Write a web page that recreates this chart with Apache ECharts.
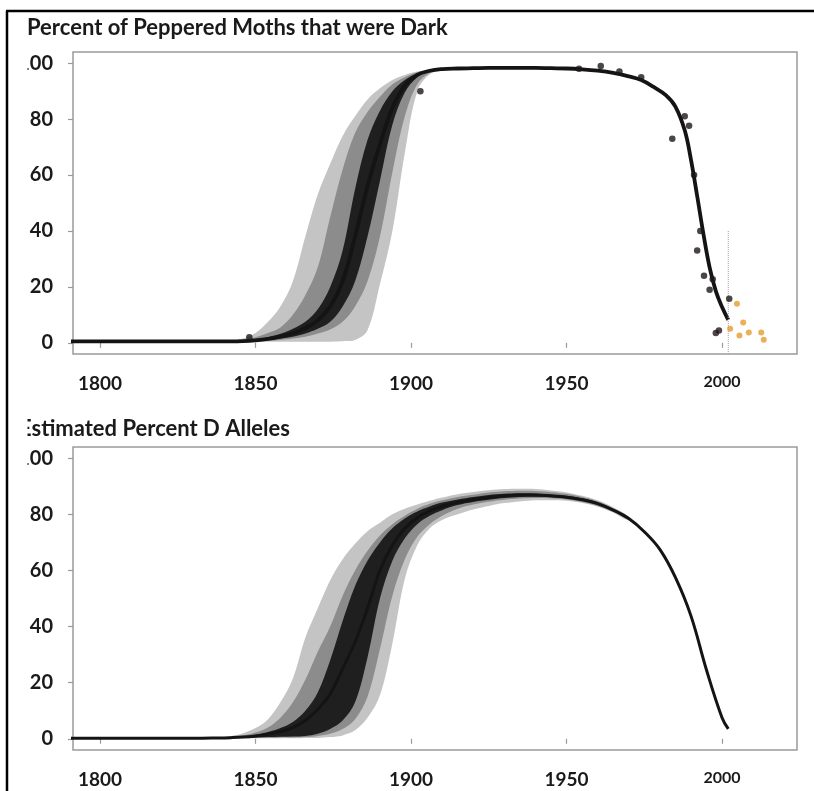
<!DOCTYPE html>
<html><head><meta charset="utf-8">
<script src="https://cdn.jsdelivr.net/npm/echarts@6/dist/echarts.min.js"></script>
<style>html,body{margin:0;padding:0;background:#fff}#c{width:814px;height:791px}</style>
</head><body><div id="c"></div><script>
// ---------- data ----------
const titles = ['Percent of Peppered Moths that were Dark', 'Estimated Percent D Alleles'];
const xTicks = [1800, 1850, 1900, 1950, 2000];
const yTicks = [0, 20, 40, 60, 80, 100];

const bandYears = [1790,1800,1810,1820,1830,1838,1842,1846,1850,1854,1858,1862,1866,1870,1874,1878,1882,1886,1890,1894,1898,1902,1906,1910,1915,1920,1925,1930,1935,1940,1945,1950,1955,1960,1965,1970];

// top panel: band edges (outer light, middle grey, dark); "Upper" = left/upper edge, "Lower" = right/lower edge
const topLightUpper = [0.5,0.5,0.5,0.5,0.5,0.6,0.8,1.5,3.5,7.5,13,22,38,53,64,74,81,87,91,94,95.8,97,97.6,98,98.2,98.3,98.3,98.3,98.3,98.3,98.2,98.1,97.8,97.3,96.5,95.3];
const topMidUpper   = [0.5,0.5,0.5,0.5,0.5,0.5,0.6,1,2,3.5,5.5,10,17,27,45,62,75,82.5,88,92.5,95,96.8,97.6,98,98.2,98.3,98.3,98.3,98.3,98.3,98.2,98.1,97.8,97.3,96.5,95.3];
const topDarkUpper  = [0.5,0.5,0.5,0.5,0.5,0.5,0.5,0.7,1.2,2,3.2,5,7.5,12,20,33,55,72.5,83,90,94,96.4,97.5,97.9,98.1,98.2,98.3,98.3,98.3,98.3,98.2,98.1,97.8,97.3,96.5,95.3];
const topDarkLower  = [0.4,0.4,0.4,0.4,0.4,0.4,0.4,0.5,0.7,1,1.5,2.2,3.3,5,7.5,13,22,38,58,78,89.5,95,97,97.8,98,98.2,98.3,98.3,98.3,98.3,98.2,98.1,97.8,97.3,96.5,95.3];
const topMidLower   = [0.4,0.4,0.4,0.4,0.4,0.4,0.4,0.4,0.5,0.7,1,1.5,2.2,3.3,4.8,7.5,13,22,38,61,81,92.5,96.5,97.6,98,98.2,98.3,98.3,98.3,98.3,98.2,98.1,97.8,97.3,96.5,95.3];
const topLightLower = [0.4,0.4,0.4,0.4,0.4,0.4,0.4,0.4,0.4,0.4,0.4,0.4,0.4,0.4,0.4,0.6,1,4.5,21,40,68,90,96,97.5,98,98.2,98.3,98.3,98.3,98.3,98.2,98.1,97.8,97.3,96.5,95.3];

const topMedYears = [1790,1800,1810,1820,1830,1838,1842,1846,1850,1854,1858,1862,1866,1870,1874,1878,1882,1886,1890,1894,1898,1902,1906,1910,1915,1920,1925,1930,1935,1940,1945,1950,1955,1960,1965,1970,1974,1978,1982,1985,1988,1990,1992,1994,1996,1998,2000,2002];
const topMedian   = [0.5,0.5,0.5,0.5,0.5,0.5,0.5,0.6,0.9,1.4,2.2,3.4,5.2,8,13,22,38,56,71,84,92,95.8,97.3,97.9,98.1,98.2,98.3,98.3,98.3,98.3,98.2,98.1,97.8,97.3,96.5,95.3,94,91.5,88.5,84.5,76,65.5,52.5,39,27,18.5,12.8,8.2];

// observed moths
const darkPoints = [[1848,2],[1903,90],[1954,98],[1961,99],[1967,97],[1974,95],[1984,73],[1988,81],[1989.4,77.6],[1991,60],[1992,33],[1993,40],[1994.2,24],[1996,19],[1997,22.7],[1998,3.5],[1999,4.4],[2002.3,15.8]];
const orangePoints = [[2002.6,5],[2004.8,14],[2005.6,2.6],[2006.8,7.3],[2008.6,3.7],[2012.6,3.7],[2013.4,1.1]];
const refLine = [[2002,-4],[2002,40]];

// bottom panel
const botLightUpper = [0.2,0.2,0.2,0.2,0.3,0.6,1,2,3.8,7,13,21.5,36,46.5,56.5,64,69.5,74,77,80,82,83.5,84.8,86,87.2,88,88.6,89,89.1,89,88.5,87.8,86.6,85,82.5,79.2];
const botMidUpper   = [0.2,0.2,0.2,0.2,0.2,0.5,0.7,1.2,2.2,4,7.5,13,21,31,40,51,60,67,72.5,76.5,79.5,82,83.8,85,86.2,87,87.8,88.2,88.4,88.3,87.9,87.3,86.2,84.7,82.2,79];
const botDarkUpper  = [0.2,0.2,0.2,0.2,0.2,0.4,0.5,0.8,1.4,2.4,3.8,6,10,16.5,28,42,54.5,63.5,70,75,78.5,81,82.8,84.2,85.3,86.2,86.9,87.3,87.5,87.4,87,86.6,85.7,84.3,81.9,78.8];
const botDarkLower  = [0.2,0.2,0.2,0.2,0.2,0.3,0.3,0.4,0.5,0.6,0.7,0.8,1,1.8,3.5,6.5,13,29,50,63.5,71.5,76.5,79.5,81.5,83.3,84.4,85.2,85.8,86.2,86.3,86.1,85.7,84.8,83.4,81.1,78.2];
const botMidLower   = [0.2,0.2,0.2,0.2,0.2,0.3,0.3,0.3,0.4,0.4,0.5,0.5,0.6,1,1.8,3.5,7,15,32,51,64,72,76.5,79.5,82,83.5,84.5,85.2,85.6,85.8,85.7,85.3,84.4,83,80.9,78];
const botLightLower = [0.2,0.2,0.2,0.2,0.2,0.2,0.2,0.2,0.2,0.2,0.2,0.2,0.3,0.3,0.6,1.2,3,7.5,15.5,34,57,69,75,78,80,81.7,83,84,84.6,85,85,84.8,84,82.7,80.6,77.8];

const botMedYears = [1790,1800,1810,1820,1830,1838,1842,1846,1850,1854,1858,1862,1866,1870,1874,1878,1882,1886,1890,1894,1898,1902,1906,1910,1915,1920,1925,1930,1935,1940,1945,1950,1955,1960,1965,1970,1975,1980,1985,1990,1995,2000,2002];
const botMedian   = [0.2,0.2,0.2,0.2,0.2,0.3,0.4,0.6,1,1.6,2.6,4,6.5,10.5,16,25,34.5,46.5,60,69,75,78.8,81.2,82.9,84.3,85.3,86,86.6,86.9,86.9,86.6,86.1,85.2,83.8,81.5,78.5,73.8,67.5,57.5,43.8,24.5,7.5,3.5];

// ---------- chart ----------
const LIGHT = '#c4c4c4', MID = '#8c8c8c', DARK = '#1f1f1f';
const pairs = (xs, ys) => xs.map((x, i) => [x, ys[i]]);
const fontFam = 'Lato, "Open Sans", sans-serif';

function band(gi, upper, lower, color, z) {
  return { type: 'custom', xAxisIndex: gi, yAxisIndex: gi, data: [[bandYears[0], upper[0]]], silent: true, z: z, clip: true,
    renderItem: function (params, api) {
      const up = upper.map((v, i) => api.coord([bandYears[i], v]));
      const lo = lower.map((v, i) => api.coord([bandYears[i], v])).reverse();
      return { type: 'polygon', shape: { points: up.concat(lo), smooth: 0.35 }, style: { fill: color } };
    } };
}
function panel(gi, lu, mu, du, dl, ml, ll, medX, medY, medW) {
  return [
    band(gi, lu, ll, LIGHT, 2), band(gi, mu, ml, MID, 3), band(gi, du, dl, DARK, 4),
    { type: 'line', xAxisIndex: gi, yAxisIndex: gi, data: pairs(medX, medY), symbol: 'none',
      smooth: 0.4, z: 8, lineStyle: { color: '#141414', width: medW } }
  ];
}

function xAxis(gi) {
  return { gridIndex: gi, type: 'value', min: 1791.3, max: 2024.1,
    axisLine: { show: false }, splitLine: { show: false },
    axisTick: { show: true, customValues: xTicks, length: 5, lineStyle: { color: '#9a9a9a', width: 1.2 } },
    axisLabel: { customValues: xTicks, margin: 20, color: '#1a1a1a', fontFamily: fontFam, fontWeight: 'bold', fontSize: 19,
      formatter: v => v === 2000 ? '{s|2000}' : String(v),
      rich: { s: { fontFamily: fontFam, fontWeight: 'bold', fontSize: 16, color: '#1a1a1a' } } } };
}
function yAxis(gi) {
  return { gridIndex: gi, type: 'value', min: -4, max: 104,
    axisLine: { show: false }, splitLine: { show: false },
    axisTick: { show: true, customValues: yTicks, length: 5, lineStyle: { color: '#9a9a9a', width: 1.2 } },
    axisLabel: { customValues: yTicks, margin: 20, color: '#1a1a1a', fontFamily: fontFam, fontWeight: 'bold', fontSize: 20 } };
}

const chart = echarts.init(document.getElementById('c'), null, { renderer: 'canvas' });
chart.setOption({
  animation: false,
  backgroundColor: '#ffffff',
  title: [
    { text: titles[0], left: 27, top: 17, padding: 0,
      textStyle: { fontFamily: fontFam, fontWeight: 'bold', fontSize: 22, color: '#1a1a1a' } },
    { text: titles[1], left: 19, top: 418, padding: 0,
      textStyle: { fontFamily: fontFam, fontWeight: 'bold', fontSize: 22, color: '#1a1a1a' } }
  ],
  grid: [
    { left: 73, top: 52, right: 17, height: 302, show: true, borderColor: '#9a9a9a', borderWidth: 1.5, backgroundColor: 'transparent' },
    { left: 73, top: 447, right: 17, height: 303, show: true, borderColor: '#9a9a9a', borderWidth: 1.5, backgroundColor: 'transparent' }
  ],
  xAxis: [xAxis(0), xAxis(1)],
  yAxis: [yAxis(0), yAxis(1)],
  series: [
    ...panel(0, topLightUpper, topMidUpper, topDarkUpper, topDarkLower, topMidLower, topLightLower, topMedYears, topMedian, 3.8),
    { type: 'line', xAxisIndex: 0, yAxisIndex: 0, data: refLine, symbol: 'none', z: 9,
      lineStyle: { color: '#a0a0a0', width: 1, type: 'dotted' } },
    { type: 'scatter', xAxisIndex: 0, yAxisIndex: 0, data: darkPoints, symbolSize: 6.5, z: 10,
      itemStyle: { color: '#1e1616' } },
    { type: 'scatter', xAxisIndex: 0, yAxisIndex: 0, data: orangePoints, symbolSize: 6, z: 10,
      itemStyle: { color: '#e39c2e' } },
    ...panel(1, botLightUpper, botMidUpper, botDarkUpper, botDarkLower, botMidLower, botLightLower, botMedYears, botMedian, 3)
  ],
  graphic: [
    { type: 'rect', left: 9, top: 12, shape: { width: 18.5, height: 779 }, style: { fill: '#ffffff' }, z: 100 },
    { type: 'line', shape: { x1: 7, y1: 11, x2: 7, y2: 791 }, style: { stroke: '#000', lineWidth: 2.5 }, z: 101 },
    { type: 'line', shape: { x1: 6, y1: 11, x2: 814, y2: 11 }, style: { stroke: '#000', lineWidth: 2.5 }, z: 101 }
  ]
});
</script></body></html>
